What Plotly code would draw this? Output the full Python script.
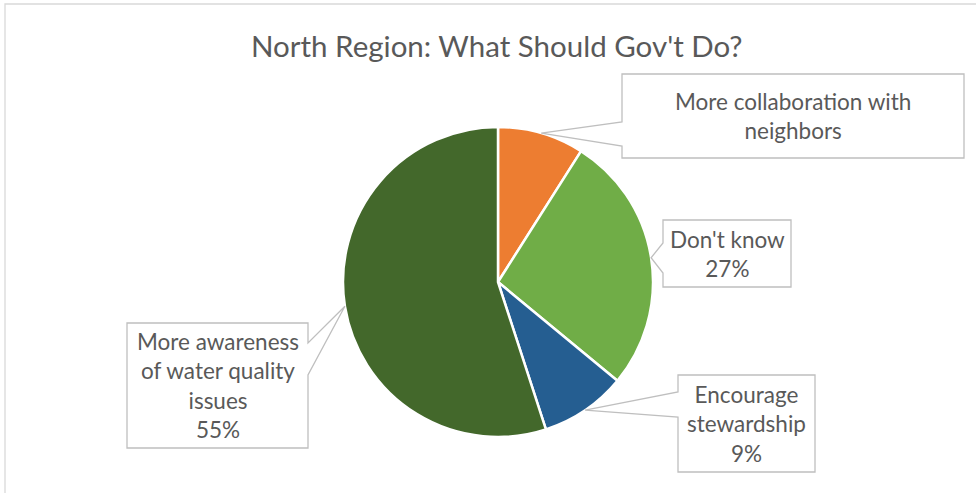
import math
import plotly.graph_objects as go

# ---- data ----
categories = ["More collaboration with neighbors", "Don't know",
              "Encourage stewardship", "More awareness of water quality issues"]
values = [9, 27, 9, 55]
label_texts = ["More collaboration with<br>neighbors",
               "Don't know<br>27%",
               "Encourage<br>stewardship<br>9%",
               "More awareness<br>of water quality<br>issues<br>55%"]
colors = ["#ED7D31", "#70AD47", "#255E91", "#43682B"]
title_text = "North Region: What Should Gov't Do?"

# ---- layout constants (pixels) ----
W, H = 976, 493
CX, CY, R = 498, 282, 155
FONT = "Lato"
TXT = "#595959"
EDGE = "#BFBFBF"

# callout boxes: (x0, y0, x1, y1, side, base_a, base_b)
boxes = [
    (622, 74, 964, 158, "left", 122, 146),
    (663, 220, 791, 287, "left", 243, 273),
    (678, 375, 815, 472, "left", 392, 417),
    (127, 323, 308, 448, "right", 343, 375),
]


def px(x):
    return x / W


def py(y):
    return 1 - y / H


fig = go.Figure()
fig.add_trace(go.Pie(
    labels=categories, values=values, sort=False, direction="clockwise",
    rotation=0, textinfo="none", hoverinfo="label+percent",
    marker=dict(colors=colors, line=dict(color="white", width=2.5)),
    domain=dict(x=[px(CX - R), px(CX + R)], y=[py(CY + R), py(CY - R)]),
    showlegend=False,
))

shapes = [dict(type="rect", xref="paper", yref="paper",
               x0=px(5), x1=1.05, y0=-0.05, y1=py(4),
               line=dict(color="#D9D9D9", width=1.3), fillcolor="rgba(0,0,0,0)",
               layer="below")]
annotations = [dict(text=title_text, x=px(497), y=py(45), xref="paper", yref="paper",
                    showarrow=False, xanchor="center", yanchor="middle",
                    font=dict(family=FONT, size=29.5, color=TXT))]

total = sum(values)
cum = 0
for v, txt, (x0, y0, x1, y1, side, ba, bb) in zip(values, label_texts, boxes):
    mid = (cum + v / 2) / total * 2 * math.pi
    cum += v
    tx = CX + R * math.sin(mid)
    ty = CY - R * math.cos(mid)
    if side == "left":
        pts = [(x0, y0), (x1, y0), (x1, y1), (x0, y1), (x0, bb), (tx, ty), (x0, ba)]
    else:
        pts = [(x0, y0), (x1, y0), (x1, ba), (tx, ty), (x1, bb), (x1, y1), (x0, y1)]
    path = "M " + " L ".join(f"{px(a):.5f},{py(b):.5f}" for a, b in pts) + " Z"
    shapes.append(dict(type="path", xref="paper", yref="paper", path=path,
                       fillcolor="white", line=dict(color=EDGE, width=1.3)))
    annotations.append(dict(text=txt, x=px((x0 + x1) / 2), y=py((y0 + y1) / 2),
                            xref="paper", yref="paper", showarrow=False,
                            xanchor="center", yanchor="middle", align="center",
                            font=dict(family=FONT, size=22.5, color=TXT)))

fig.update_layout(width=W, height=H, margin=dict(l=0, r=0, t=0, b=0),
                  paper_bgcolor="white", plot_bgcolor="white",
                  shapes=shapes, annotations=annotations)
fig.write_html("out.html")
